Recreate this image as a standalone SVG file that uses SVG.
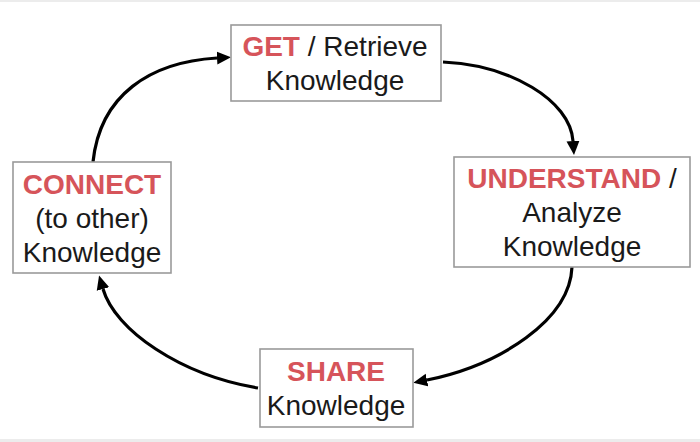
<svg xmlns="http://www.w3.org/2000/svg" width="700" height="442" viewBox="0 0 700 442">
  <style>
    .box { fill: #ffffff; stroke: #9a9a9a; stroke-width: 1.6; }
    .t { font-family: "Liberation Sans", Arial, Helvetica, sans-serif; font-size: 28px; fill: #1a1a1a; text-anchor: middle; }
    .red { font-weight: bold; fill: #d6545a; }
    .conn { fill: none; stroke: #000000; stroke-width: 3.2; marker-end: url(#arrow); }
  </style>
  <defs>
    <marker id="arrow" markerUnits="userSpaceOnUse" markerWidth="16" markerHeight="14" refX="0" refY="7" orient="auto">
      <path d="M0,0.5 L14,7 L0,13.5 z" fill="#000000"/>
    </marker>
  </defs>
  <rect x="0" y="0" width="700" height="442" fill="#ffffff"/>
  <rect x="0" y="0" width="700" height="2" fill="#ececec"/>
  <rect x="0" y="439" width="700" height="3" fill="#ececec"/>

  <g id="connectors">
    <path class="conn" d="M93,162 C100,95 150,62 217,58"/>
    <path class="conn" d="M443,62 C510,65 570,100 573,141"/>
    <path class="conn" d="M572,267 C570,320 500,365 427,380"/>
    <path class="conn" d="M258,388 C180,375 115,330 103,289"/>
  </g>

  <g id="node-get">
    <rect class="box" x="231" y="25" width="210" height="76"/>
    <text class="t" x="335" y="56"><tspan class="red">GET</tspan> / Retrieve</text>
    <text class="t" x="335" y="90">Knowledge</text>
  </g>

  <g id="node-understand">
    <rect class="box" x="454" y="157" width="236" height="110"/>
    <text class="t" x="572" y="188"><tspan class="red">UNDERSTAND</tspan> /</text>
    <text class="t" x="572" y="222">Analyze</text>
    <text class="t" x="572" y="256">Knowledge</text>
  </g>

  <g id="node-share">
    <rect class="box" x="260" y="349" width="153" height="78"/>
    <text class="t red" x="336" y="381">SHARE</text>
    <text class="t" x="336" y="415">Knowledge</text>
  </g>

  <g id="node-connect">
    <rect class="box" x="13" y="162" width="158" height="111"/>
    <text class="t red" x="92" y="194">CONNECT</text>
    <text class="t" x="92" y="228">(to other)</text>
    <text class="t" x="92" y="262">Knowledge</text>
  </g>
</svg>
